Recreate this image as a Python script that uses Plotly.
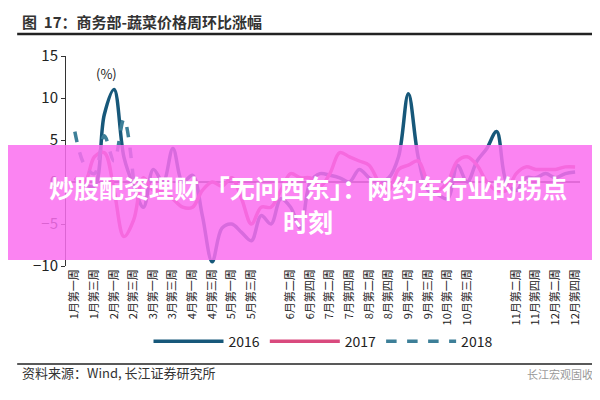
import plotly.graph_objects as go

weeks = list(range(52))
v2016 = [0.5, -0.3, -0.5, 8, 11, 3, -0.5, -3, 1.5, 0, 4, 0, 0.8, -4, -9.5, -5.5, -5, -6, -7, -4,
         -5, -2, -3, -5.5, 0, 1, 0.8, 0.5, 0, 1.5, 0.5, 0, 0.5, 3, 10.5, 3, -1, -1.5, -2, 2,
         0, 2.5, 4, 6, 0, -1, 0.5, 0.5, 1, 0.5, 1, 1.2]
v2017 = [0.5, 0, 3, 3.5, -1, -6.5, -4.5, 0.5, -1, -1, -2, -3, -3, -1, 0, -0.5, 0.5, -2, -5, -3,
         -3, -1, 1, 0.5, 0.5, -0.5, 1, 3.5, 3, 2.5, 2, 0, -1, 1.5, 2, 2.5, 0, -1, 0, 2.5,
         3, 2, 0, -1, -1, 1, 1.8, 1.5, 1.5, 1.5, 1.8, 1.8]
v2018 = [6, 2, 1, 5.5, 2.5, 7.5, 0]

tick_pos = [0, 2, 4, 6, 8, 10, 12, 14, 16, 18, 22, 24, 26, 28, 30, 32, 34, 36, 38, 40, 45, 47, 49, 51]
tick_text = ["1月第一周", "1月第三周", "2月第一周", "2月第三周", "3月第一周", "3月第三周",
             "4月第一周", "4月第三周", "5月第一周", "5月第三周",
             "6月第二周", "6月第四周", "7月第二周", "7月第四周", "8月第二周", "8月第四周",
             "9月第一周", "9月第三周", "10月第一周", "10月第三周",
             "11月第二周", "11月第四周", "12月第二周", "12月第四周"]

fig = go.Figure()
fig.add_trace(go.Scatter(x=weeks, y=v2016, name="2016", mode="lines", line_shape="spline",
                         line=dict(color="#17587a", width=3.5)))
fig.add_trace(go.Scatter(x=weeks, y=v2017, name="2017", mode="lines", line_shape="spline",
                         line=dict(color="#d94a7e", width=3.5)))
fig.add_trace(go.Scatter(x=weeks[:len(v2018)], y=v2018, name="2018", mode="lines", line_shape="spline",
                         line=dict(color="#3d7f98", width=3.5, dash="dash")))

fig.update_layout(
    width=600, height=400, plot_bgcolor="white", paper_bgcolor="white",
    margin=dict(l=58, r=28, t=48, b=142, autoexpand=False),
    font=dict(family="Noto Sans CJK SC, Arial", color="#222", size=13),
    showlegend=True,
    legend=dict(orientation="h", x=0.5, xanchor="center", y=-0.36, yanchor="middle",
                font=dict(size=14), itemwidth=70),
    xaxis=dict(range=[-0.9, 51.5], tickvals=tick_pos, ticktext=tick_text, tickangle=-90,
               showgrid=False, zeroline=False, ticks="", tickfont=dict(size=11), automargin=False),
    yaxis=dict(range=[-10, 15], dtick=5, showgrid=False, zeroline=True, zerolinecolor="#555",
               zerolinewidth=1.5, showline=True, linecolor="#333", ticks="outside", ticklen=4,
               tickcolor="#333", tickfont=dict(size=15), automargin=False),
)

fig.add_annotation(text="<b>图  17：商务部-蔬菜价格周环比涨幅</b>", xref="paper", yref="paper",
                   x=-0.09, y=1.165, xanchor="left", yanchor="middle", showarrow=False,
                   font=dict(size=15, color="#333"))
fig.add_shape(type="line", xref="paper", yref="paper", x0=-0.095, x1=1.04, y0=1.105, y1=1.105,
              line=dict(color="#222", width=2.5))
fig.add_annotation(text="(%)", xref="paper", yref="paper", x=0.055, y=0.97, xanchor="left",
                   showarrow=False, font=dict(size=13))
fig.add_shape(type="line", xref="paper", yref="paper", x0=-0.095, x1=1.04, y0=-0.467, y1=-0.467,
              line=dict(color="#222", width=1.5))
fig.add_annotation(text="资料来源：Wind, 长江证券研究所", xref="paper", yref="paper",
                   x=-0.09, y=-0.56, xanchor="left", showarrow=False, font=dict(size=13, color="#333"))
fig.add_annotation(text="长江宏观固收", xref="paper", yref="paper", x=1.03, y=-0.56,
                   xanchor="right", showarrow=False, font=dict(size=11, color="#999"))
# pink banner overlay
fig.add_shape(type="rect", xref="paper", yref="paper", x0=-0.12, x1=1.06, y0=0.029, y1=0.576,
              fillcolor="rgba(250,110,240,0.85)", line=dict(width=0), layer="above")
fig.add_annotation(text="<b>炒股配资理财 「无问西东」：网约车行业的拐点</b>", xref="paper",
                   yref="paper", x=0.47, y=0.376, yanchor="middle", showarrow=False,
                   font=dict(size=25, color="white"))
fig.add_annotation(text="<b>时刻</b>", xref="paper",
                   yref="paper", x=0.47, y=0.215, yanchor="middle", showarrow=False,
                   font=dict(size=25, color="white"))

fig.write_html("out.html")
